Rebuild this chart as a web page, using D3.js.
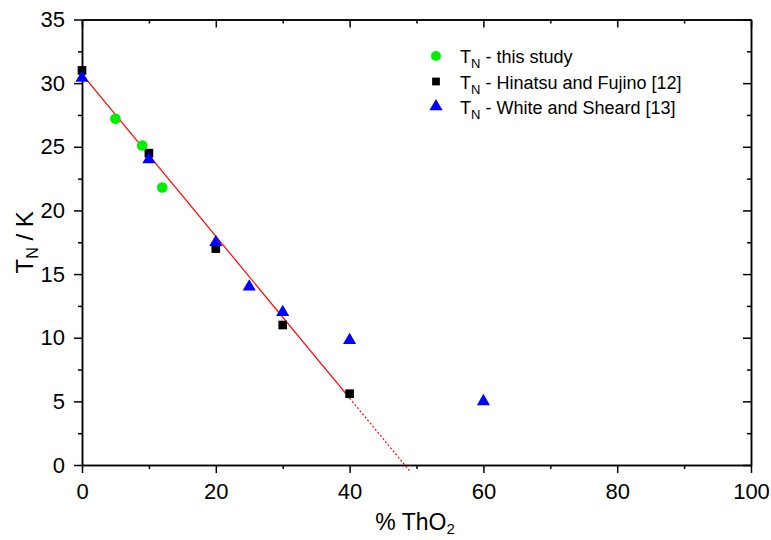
<!DOCTYPE html>
<html><head><meta charset="utf-8">
<script src="https://cdn.jsdelivr.net/npm/d3@7"></script>
<style>body{margin:0;background:#fff}svg{display:block;font-family:Arial,"Liberation Sans",sans-serif}</style>
</head><body><svg id="c" width="771" height="540"></svg>
<script>
const thisStudyX = [5, 9, 12];
const thisStudyY = [27.2, 25.1, 21.8];
const hinatsuX = [0, 10, 20, 30, 40];
const hinatsuY = [31, 24.5, 17, 11, 5.6];
const whiteX = [0, 10, 20, 25, 30, 40, 60];
const whiteY = [30.4, 24, 17.5, 14, 12, 9.8, 5];
const fitSolidX = [0, 40];
const fitSolidY = [30.7, 5.25];
const fitDotX = [40, 49];
const fitDotY = [5.25, -0.48];
const xTicks = [0, 20, 40, 60, 80, 100];
const xMinor = [10, 30, 50, 70, 90];
const yTicks = [0, 5, 10, 15, 20, 25, 30, 35];
const yMinor = [2.5, 7.5, 12.5, 17.5, 22.5, 27.5, 32.5];
const legendLabels = [" - this study", " - Hinatsu and Fujino [12]", " - White and Sheard [13]"];

const FONT = "Arial, 'Liberation Sans', sans-serif";
const svg = d3.select("#c");
const L = 82, R = 751, T = 19.5, B = 465;
const x = d3.scaleLinear().domain([0, 100]).range([L, R]);
const y = d3.scaleLinear().domain([0, 35]).range([B, T]);

svg.append("g").attr("transform", `translate(0,${B})`)
  .call(d3.axisBottom(x).tickValues(xTicks).tickSize(8).tickPadding(10).tickSizeOuter(0));
svg.append("g").attr("transform", `translate(0,${B})`)
  .call(d3.axisBottom(x).tickValues(xMinor).tickSize(4).tickFormat("").tickSizeOuter(0));
svg.append("g").attr("transform", `translate(0,${T})`)
  .call(d3.axisBottom(x).tickValues(xTicks).tickSize(8).tickFormat("").tickSizeOuter(0));
svg.append("g").attr("transform", `translate(0,${T})`)
  .call(d3.axisBottom(x).tickValues(xMinor).tickSize(4).tickFormat("").tickSizeOuter(0));
svg.append("g").attr("transform", `translate(${L},0)`)
  .call(d3.axisLeft(y).tickValues(yTicks).tickSize(8).tickPadding(9).tickSizeOuter(0));
svg.append("g").attr("transform", `translate(${L},0)`)
  .call(d3.axisLeft(y).tickValues(yMinor).tickSize(4).tickFormat("").tickSizeOuter(0));
svg.append("g").attr("transform", `translate(${R},0)`)
  .call(d3.axisLeft(y).tickValues(yTicks).tickSize(8).tickFormat("").tickSizeOuter(0));
svg.append("g").attr("transform", `translate(${R},0)`)
  .call(d3.axisLeft(y).tickValues(yMinor).tickSize(4).tickFormat("").tickSizeOuter(0));
svg.selectAll(".domain").attr("stroke", "#000").attr("stroke-width", 1.5);
svg.selectAll(".tick line").attr("stroke", "#000").attr("stroke-width", 1.5);
svg.selectAll(".tick text").attr("font-size", 22).attr("font-family", FONT).attr("fill", "#000");

// fit line
const line = d3.line().x(d => x(d[0])).y(d => y(d[1]));
svg.append("path").datum(fitSolidX.map((v,i)=>[v, fitSolidY[i]]))
  .attr("d", line).attr("stroke", "#ff0000").attr("stroke-width", 1.2).attr("fill", "none");
svg.append("path").datum(fitDotX.map((v,i)=>[v, fitDotY[i]]))
  .attr("d", line).attr("stroke", "#ff0000").attr("stroke-width", 1.2).attr("stroke-dasharray", "2,2").attr("fill", "none");

// markers
const sym = (type, size) => d3.symbol().type(type).size(size)();
svg.append("g").selectAll("path").data(hinatsuX.map((v,i)=>[v, hinatsuY[i]])).join("path")
  .attr("d", sym(d3.symbolSquare, 75)).attr("transform", d => `translate(${x(d[0])},${y(d[1])})`).attr("fill", "#000");
svg.append("g").selectAll("path").data(whiteX.map((v,i)=>[v, whiteY[i]])).join("path")
  .attr("d", sym(d3.symbolTriangle, 75)).attr("transform", d => `translate(${x(d[0])},${y(d[1])})`).attr("fill", "#0000ff");
svg.append("g").selectAll("circle").data(thisStudyX.map((v,i)=>[v, thisStudyY[i]])).join("circle")
  .attr("cx", d => x(d[0])).attr("cy", d => y(d[1])).attr("r", 5.3).attr("fill", "#00ee00");

// legend
const leg = svg.append("g").attr("font-family", FONT);
const base = [63, 89, 114];
leg.append("circle").attr("cx", 436).attr("cy", 56).attr("r", 5).attr("fill", "#00ee00");
leg.append("path").attr("d", sym(d3.symbolSquare, 60)).attr("transform", `translate(436,81.5)`).attr("fill", "#000");
leg.append("path").attr("d", sym(d3.symbolTriangle, 75)).attr("transform", `translate(436,106.5)`).attr("fill", "#0000ff");
legendLabels.forEach((lab, i) => {
  const t = leg.append("text").attr("x", 460).attr("y", base[i]).attr("font-size", 18).attr("fill", "#000");
  t.append("tspan").text("T");
  t.append("tspan").text("N").attr("font-size", 13).attr("dy", 5);
  t.append("tspan").text(lab).attr("dy", -5);
});

// axis titles
const xt = svg.append("text").attr("x", 415).attr("y", 530).attr("text-anchor", "middle").attr("font-size", 23).attr("font-family", FONT).attr("fill", "#000");
xt.append("tspan").text("% ThO");
xt.append("tspan").text("2").attr("font-size", 15).attr("dy", 4);
const yt = svg.append("text").attr("transform", `translate(33,${(T+B)/2}) rotate(-90)`).attr("text-anchor", "middle").attr("font-size", 24).attr("font-family", FONT).attr("fill", "#000");
yt.append("tspan").text("T");
yt.append("tspan").text("N").attr("font-size", 16).attr("dy", 5);
yt.append("tspan").text(" / K").attr("dy", -5);
</script></body></html>
